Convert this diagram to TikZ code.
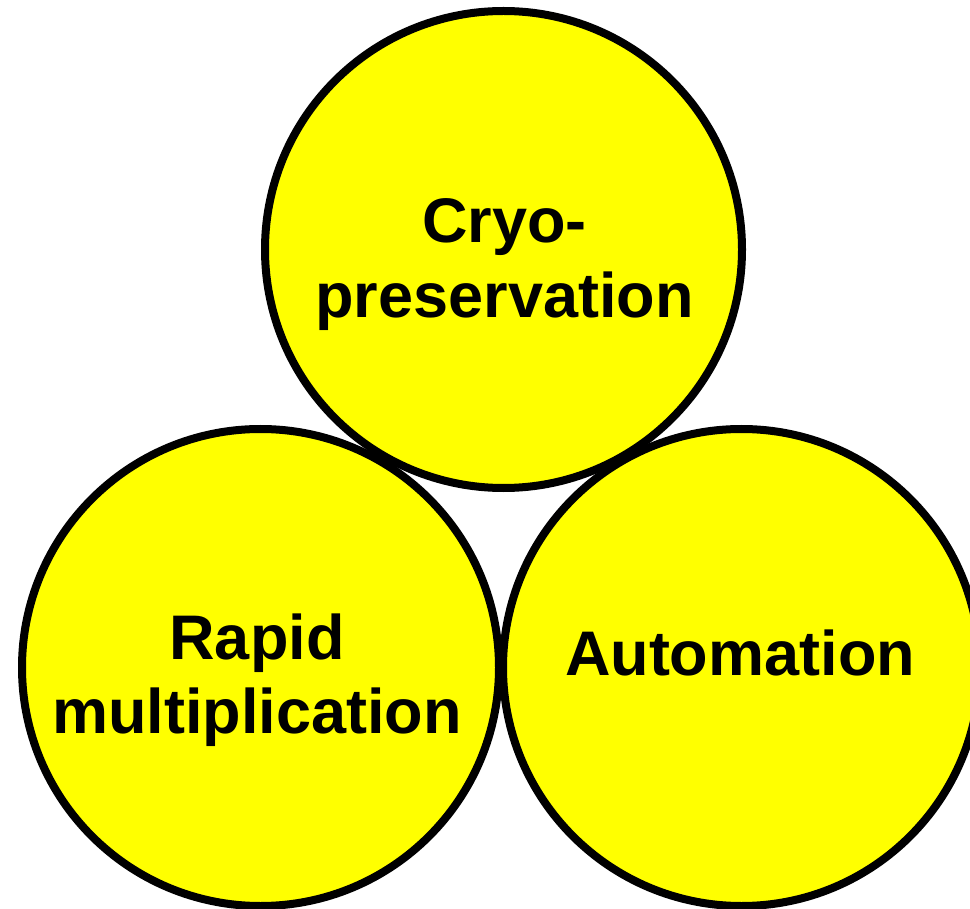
\documentclass[tikz,border=0pt]{standalone}
\usepackage{fontspec}
\setmainfont{Liberation Sans}
\definecolor{topicyellow}{RGB}{255,255,0}
\begin{document}
\begin{tikzpicture}[x=1pt,y=-1pt,
  topic/.style={circle,draw=black,line width=8pt,fill=topicyellow,
    minimum size=477pt,inner sep=0pt},
  label/.style={anchor=base,inner sep=0pt,
    font=\fontsize{63}{75}\selectfont\bfseries}]
  \useasboundingbox (0,0) rectangle (970,909);
  \begin{scope}
    \clip (0,0) rectangle (970,909);
    % three touching circles
    \node[topic] (cryo) at (503.5,249.5) {};
    \node[topic] (rapid) at (260.5,667.5) {};
    \node[topic] (auto) at (741.5,667.5) {};
  \end{scope}
  % labels
  \node[label] (cryoA) at (504.5,243) {Cryo-};
  \node[label] (cryoB) at (504.5,318) {preservation};
  \node[label] (rapidA) at (257,659) {Rapid};
  \node[label] (rapidB) at (257,733) {multiplication};
  \node[label] (autoA) at (740,675) {Automation};
\end{tikzpicture}
\end{document}
